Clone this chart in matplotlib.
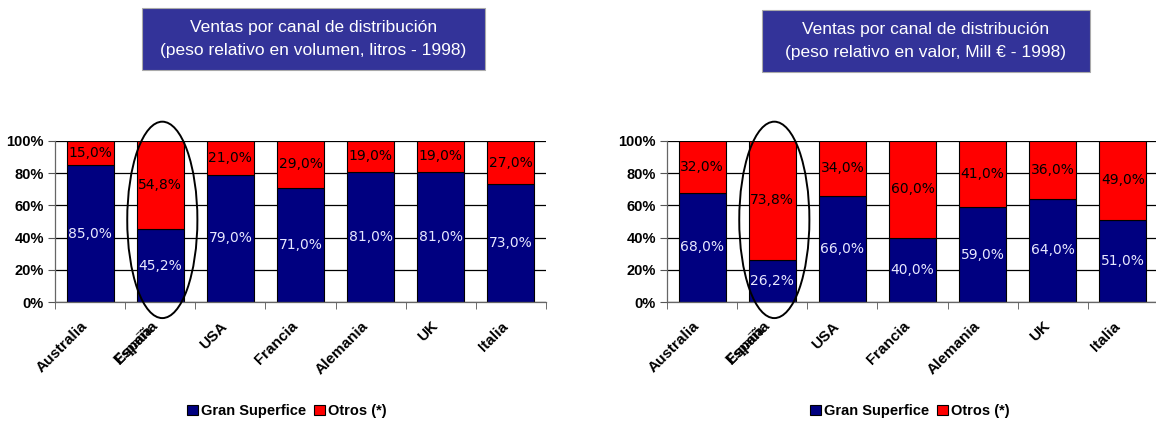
import matplotlib
matplotlib.use('Agg')
import numpy as np
from matplotlib import pyplot as plt
from matplotlib.patches import Ellipse, Rectangle
from matplotlib.transforms import ScaledTranslation

paises = ['Australia', 'España', 'USA', 'Francia', 'Alemania', 'UK', 'Italia']

# peso relativo en volumen (litros, 1998)
volumen_gs = [85.0, 45.2, 79.0, 71.0, 81.0, 81.0, 73.0]
volumen_otros = [15.0, 54.8, 21.0, 29.0, 19.0, 19.0, 27.0]

# peso relativo en valor (Mill €, 1998)
valor_gs = [68.0, 26.2, 66.0, 40.0, 59.0, 64.0, 51.0]
valor_otros = [32.0, 73.8, 34.0, 60.0, 41.0, 36.0, 49.0]

series_names = ['Gran Superfice', 'Otros (*)']
titles = [
    'Ventas por canal de distribución\n(peso relativo en volumen, litros - 1998)',
    'Ventas por canal de distribución\n(peso relativo en valor, Mill € - 1998)',
]

NAVY = '#000080'
RED = '#FF0000'
BOX = '#333399'
W, H = 1156, 424
DPI = 100


def fmt(v):
    return f'{v:.1f}%'.replace('.', ',')


def px(x0, y0, x1, y1):
    '''Figure-fraction rect from pixel box (top-left origin).'''
    return [x0 / W, 1 - y1 / H, (x1 - x0) / W, (y1 - y0) / H]


def shift(fig, dx, dy):
    return ScaledTranslation(dx / DPI, dy / DPI, fig.dpi_scale_trans)


def draw_panel(fig, ax, gs, otros, highlight):
    x = np.arange(len(paises))
    b1 = ax.bar(x, gs, width=0.67, color=NAVY, edgecolor='black', linewidth=0.8, zorder=2)
    b2 = ax.bar(x, otros, bottom=gs, width=0.67, color=RED, edgecolor='black', linewidth=0.8, zorder=2)

    for xi, g, o in zip(x, gs, otros):
        ax.text(xi, g / 2, fmt(g), ha='center', va='center', color='#E8E8FF',
                fontsize=10, family='DejaVu Sans', zorder=3)
        ax.text(xi, g + o / 2, fmt(o), ha='center', va='center', color='black',
                fontsize=10, family='DejaVu Sans', zorder=3)

    ax.set_xlim(-0.5, len(paises) - 0.5)
    ax.set_ylim(0, 100)
    ax.set_yticks(range(0, 101, 20))
    ax.set_yticklabels([f'{v}%' for v in range(0, 101, 20)], fontsize=10.5,
                       fontweight='bold', family='Liberation Sans')
    ax.yaxis.grid(True, color='black', linewidth=0.9)
    ax.set_axisbelow(True)

    ax.set_xticks(x)
    ax.set_xticks(np.arange(-0.5, len(paises), 1.0), minor=True)
    ax.set_xticklabels([])
    ax.tick_params(axis='x', which='major', length=0)
    ax.tick_params(axis='x', which='minor', length=5, color='#555555')
    ax.tick_params(axis='y', length=5, color='#555555', pad=3)

    # rotated country names, anchored at their right end under each bar
    base = ax.get_xaxis_transform()
    label_kw = dict(rotation=45, ha='right', va='center', rotation_mode='anchor',
                    fontsize=11, fontweight='bold', clip_on=False)
    for xi, name in zip(x, paises):
        ax.text(xi, 0, name, transform=base + shift(fig, -5, -22),
                family='Liberation Sans', **label_kw)
    # the overprinted serif label under "España"
    ax.text(highlight, 0, paises[highlight], transform=base + shift(fig, -9, -26),
            family='Liberation Serif', **label_kw)

    for s in ['top', 'right']:
        ax.spines[s].set_visible(False)
    for s in ['left', 'bottom']:
        ax.spines[s].set_color('#666666')
        ax.spines[s].set_linewidth(0.9)

    ax.add_patch(Ellipse((highlight + 0.03, 51), 1.0, 122, fill=False,
                         edgecolor='black', linewidth=1.4, clip_on=False, zorder=4))
    return b1, b2


fig = plt.figure(figsize=(W / DPI, H / DPI), dpi=DPI)

panels = [
    (px(55, 141, 546, 302), volumen_gs, volumen_otros, (142, 8, 485, 70), 287),
    (px(667, 141, 1158, 302), valor_gs, valor_otros, (762, 10, 1090, 72), 910),
]

for i, (rect, gs, otros, box, leg_x) in enumerate(panels):
    ax = fig.add_axes(rect)
    b1, b2 = draw_panel(fig, ax, gs, otros, paises.index('España'))

    bx0, by0, bx1, by1 = box
    fig.patches.append(Rectangle((bx0 / W, 1 - by1 / H), (bx1 - bx0) / W, (by1 - by0) / H,
                                 transform=fig.transFigure, facecolor=BOX,
                                 edgecolor='#AAAAAA', linewidth=0.8))
    fig.text((bx0 + bx1) / 2 / W, 1 - (by0 + by1) / 2 / H, titles[i], ha='center',
             va='center', color='white', fontsize=12.5, linespacing=1.6,
             family=['Liberation Sans Narrow', 'Liberation Sans', 'DejaVu Sans'])

    ax.legend([b1, b2], series_names, loc='center', bbox_to_anchor=(leg_x / W, 1 - 411 / H),
              bbox_transform=fig.transFigure, ncol=2, frameon=False, handlelength=0.75,
              handleheight=0.75, handletextpad=0.25, columnspacing=0.5,
              prop={'family': 'Liberation Sans', 'weight': 'bold', 'size': 10.5})

fig.savefig('out.png', dpi=DPI)
